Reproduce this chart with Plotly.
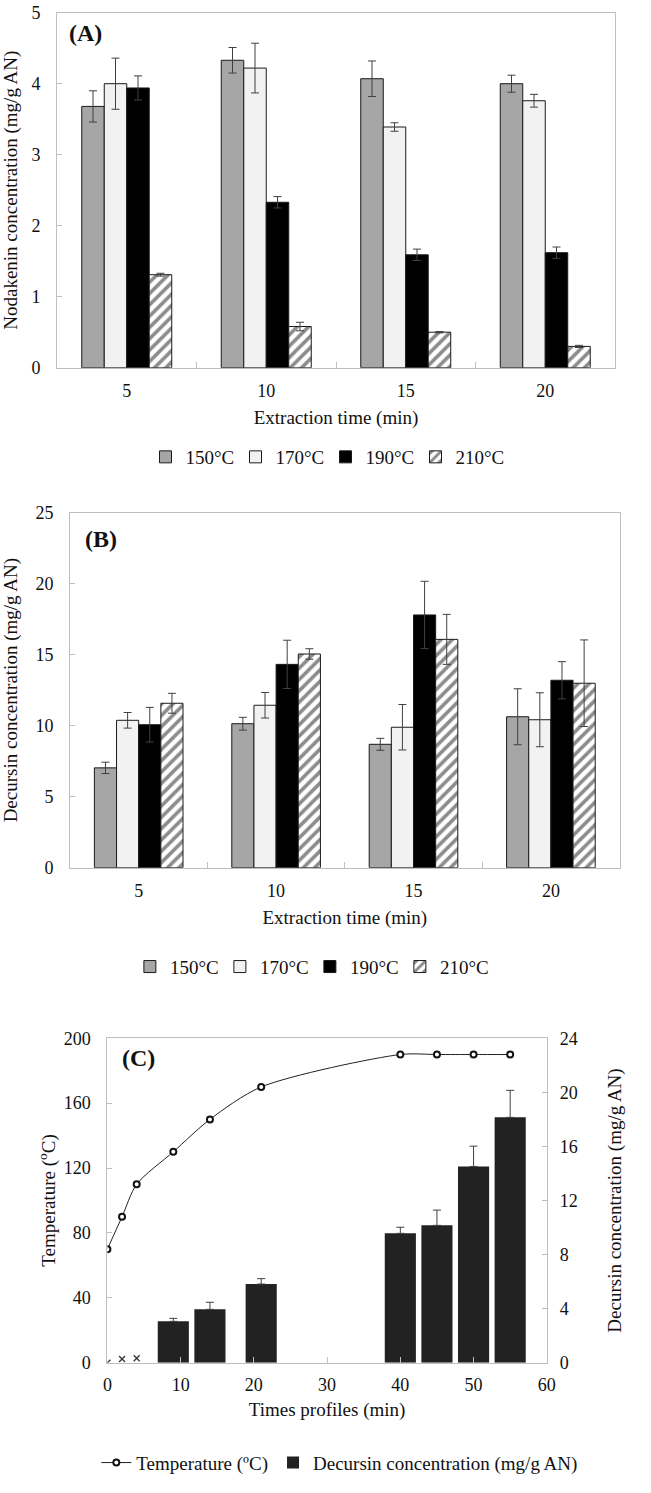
import plotly.graph_objects as go

# ---------------- data ----------------
times = ["5", "10", "15", "20"]
temps_labels = ["150°C", "170°C", "190°C", "210°C"]

nodakenin_150 = [3.68, 4.33, 4.07, 4.00]
nodakenin_170 = [4.00, 4.22, 3.39, 3.76]
nodakenin_190 = [3.94, 2.33, 1.59, 1.62]
nodakenin_210 = [1.31, 0.58, 0.50, 0.30]
nodakenin_150_err = [0.22, 0.18, 0.25, 0.12]
nodakenin_170_err = [0.36, 0.35, 0.06, 0.09]
nodakenin_190_err = [0.17, 0.08, 0.08, 0.08]
nodakenin_210_err = [0.02, 0.06, 0.01, 0.015]

decursin_150 = [7.03, 10.14, 8.69, 10.63]
decursin_170 = [10.38, 11.44, 9.89, 10.42]
decursin_190 = [10.07, 14.32, 17.80, 13.20]
decursin_210 = [11.58, 15.05, 16.08, 12.99]
decursin_150_err = [0.40, 0.45, 0.42, 1.97]
decursin_170_err = [0.55, 0.90, 1.60, 1.90]
decursin_190_err = [1.22, 1.70, 2.37, 1.31]
decursin_210_err = [0.70, 0.37, 1.76, 3.05]

profile_time = [0, 2, 4, 9, 14, 21, 40, 45, 50, 55]
profile_temp = [70, 90, 110, 130, 150, 170, 190, 190, 190, 190]

bar_time = [9, 14, 21, 40, 45, 50, 55]
bar_decursin = [3.06, 3.95, 5.82, 9.57, 10.16, 14.52, 18.15]
bar_decursin_err = [0.22, 0.52, 0.40, 0.45, 1.13, 1.50, 2.00]

early_time = [0, 2, 4]
early_decursin = [0.0, 0.27, 0.33]

# ---------------- style ----------------
FONT = "Liberation Serif"
TXT = "#111111"
AXC = "#bfbfbf"
fills = ["#a6a6a6", "#f2f2f2", "#000000", "#ffffff"]
ERRC = "#404040"

H = 1493.0
def py(px):
    return 1 - px / H

fig = go.Figure()

def add_group(xa, ya, legend, vals, errs, show):
    for i, (v, e) in enumerate(zip(vals, errs)):
        marker = dict(color=fills[i], line=dict(color="#1a1a1a", width=1))
        if i == 3:
            marker["pattern"] = dict(shape="/", fgcolor="#1a1a1a", bgcolor="#ffffff",
                                     size=8, solidity=0.45, fillmode="overlay")
        fig.add_trace(go.Bar(
            x=times, y=v, name=temps_labels[i], xaxis=xa, yaxis=ya,
            marker=marker, legend=legend, showlegend=show,
            error_y=dict(type="data", array=e, color=ERRC, thickness=1, width=4),
        ))

add_group("x", "y", "legend",
          [nodakenin_150, nodakenin_170, nodakenin_190, nodakenin_210],
          [nodakenin_150_err, nodakenin_170_err, nodakenin_190_err, nodakenin_210_err], True)
add_group("x2", "y2", "legend2",
          [decursin_150, decursin_170, decursin_190, decursin_210],
          [decursin_150_err, decursin_170_err, decursin_190_err, decursin_210_err], True)

# Panel C
fig.add_trace(go.Bar(
    x=bar_time, y=bar_decursin, width=4.25, xaxis="x3", yaxis="y4",
    name="Decursin concentration (mg/g AN)", legend="legend3",
    marker=dict(color="#222222", line=dict(width=0)),
    error_y=dict(type="data", array=bar_decursin_err, arrayminus=[0] * len(bar_decursin_err),
                 symmetric=False, color=ERRC, thickness=1, width=4),
))
fig.add_trace(go.Scatter(
    x=early_time, y=early_decursin, xaxis="x3", yaxis="y4", mode="markers",
    marker=dict(symbol="x-thin", size=6, line=dict(color="#333333", width=1.3)),
    showlegend=False,
))
fig.add_trace(go.Scatter(
    x=profile_time, y=profile_temp, xaxis="x3", yaxis="y3", mode="lines+markers",
    name="Temperature (ºC)", legend="legend3",
    line=dict(color="#222222", width=1, shape="spline", smoothing=0.8),
    marker=dict(symbol="circle", size=6, color="white", line=dict(color="#111111", width=2)),
))

tickfont = dict(family=FONT, size=18, color=TXT)
titlefont = dict(family=FONT, size=19, color=TXT)

def cat_xaxis(domain, anchor, title):
    return dict(domain=domain, anchor=anchor, type="category", range=[-0.5, 3.5],
                showline=True, linecolor=AXC, linewidth=1, mirror=True,
                ticks="inside", ticklen=6, tickcolor=AXC, tickson="boundaries",
                showgrid=False, zeroline=False, tickfont=tickfont, ticklabelstandoff=7,
                title=dict(text=title, font=titlefont, standoff=10), fixedrange=True)

def val_yaxis(domain, anchor, rng, dtick, title, standoff):
    return dict(domain=domain, anchor=anchor, range=rng, dtick=dtick,
                showline=True, linecolor=AXC, linewidth=1, mirror=True,
                ticks="inside", ticklen=5, tickcolor=AXC, showgrid=False, zeroline=False,
                tickfont=tickfont, ticklabelstandoff=12,
                title=dict(text=title, font=titlefont, standoff=standoff))

dA = [57 / 651, 615 / 651]
dB = [70 / 651, 619.6 / 651]
dC = [107.4 / 651, 546.8 / 651]

legend_common = dict(orientation="h", yanchor="middle", itemwidth=30,
                     font=dict(family=FONT, size=19, color=TXT), bgcolor="rgba(0,0,0,0)")

fig.update_layout(
    width=651, height=1493,
    margin=dict(l=0, r=0, t=0, b=0, autoexpand=False),
    paper_bgcolor="white", plot_bgcolor="white",
    barmode="group", bargap=0.355, bargroupgap=0,
    font=dict(family=FONT, color=TXT),
    xaxis=cat_xaxis(dA, "y", "Extraction time (min)"),
    yaxis=val_yaxis([py(367.7), py(12.7)], "x", [0, 5], 1,
                    "Nodakenin concentration (mg/g AN)", 19),
    xaxis2=cat_xaxis(dB, "y2", "Extraction time (min)"),
    yaxis2=val_yaxis([py(867.7), py(512.7)], "x2", [0, 25], 5,
                     "Decursin concentration (mg/g AN)", 14),
    xaxis3=dict(domain=dC, anchor="y3", range=[0, 60], dtick=10,
                showline=True, linecolor=AXC, linewidth=1, mirror=True,
                ticks="inside", ticklen=6, tickcolor=AXC, showgrid=False, zeroline=False,
                tickfont=tickfont, ticklabelstandoff=6,
                title=dict(text="Times profiles (min)", font=titlefont, standoff=8)),
    yaxis3=dict(domain=[py(1362.7), py(1038.3)], anchor="x3", range=[0, 200], dtick=40,
                showline=True, linecolor=AXC, linewidth=1, mirror=True,
                ticks="inside", ticklen=5, tickcolor=AXC, showgrid=False, zeroline=False,
                tickfont=tickfont, ticklabelstandoff=12,
                title=dict(text="Temperature (<sup>o</sup>C)", font=titlefont, standoff=3)),
    yaxis4=dict(overlaying="y3", anchor="x3", side="right", range=[0, 24], dtick=4,
                showline=False, ticks="inside", ticklen=5, tickcolor=AXC,
                showgrid=False, zeroline=False, tickfont=tickfont, ticklabelstandoff=12,
                title=dict(text="Decursin concentration (mg/g AN)", font=titlefont, standoff=30)),
    legend=dict(legend_common, x=0.5, xanchor="center", y=py(457), entrywidth=45),
    legend2=dict(legend_common, x=0.476, xanchor="center", y=py(966.7), entrywidth=45),
    legend3=dict(legend_common, x=0.522, xanchor="center", y=py(1462.7), traceorder="reversed"),
    annotations=[
        dict(text="<b>(A)</b>", x=67 / 651, y=py(33), xref="paper", yref="paper",
             xanchor="left", yanchor="middle", showarrow=False,
             font=dict(family=FONT, size=24, color=TXT)),
        dict(text="<b>(B)</b>", x=83 / 651, y=py(539), xref="paper", yref="paper",
             xanchor="left", yanchor="middle", showarrow=False,
             font=dict(family=FONT, size=24, color=TXT)),
        dict(text="<b>(C)</b>", x=120 / 651, y=py(1058), xref="paper", yref="paper",
             xanchor="left", yanchor="middle", showarrow=False,
             font=dict(family=FONT, size=24, color=TXT)),
    ],
)

fig.write_html("out.html", config={"displayModeBar": False},
               post_script="document.body.style.margin='0';document.body.style.overflow='hidden';")
